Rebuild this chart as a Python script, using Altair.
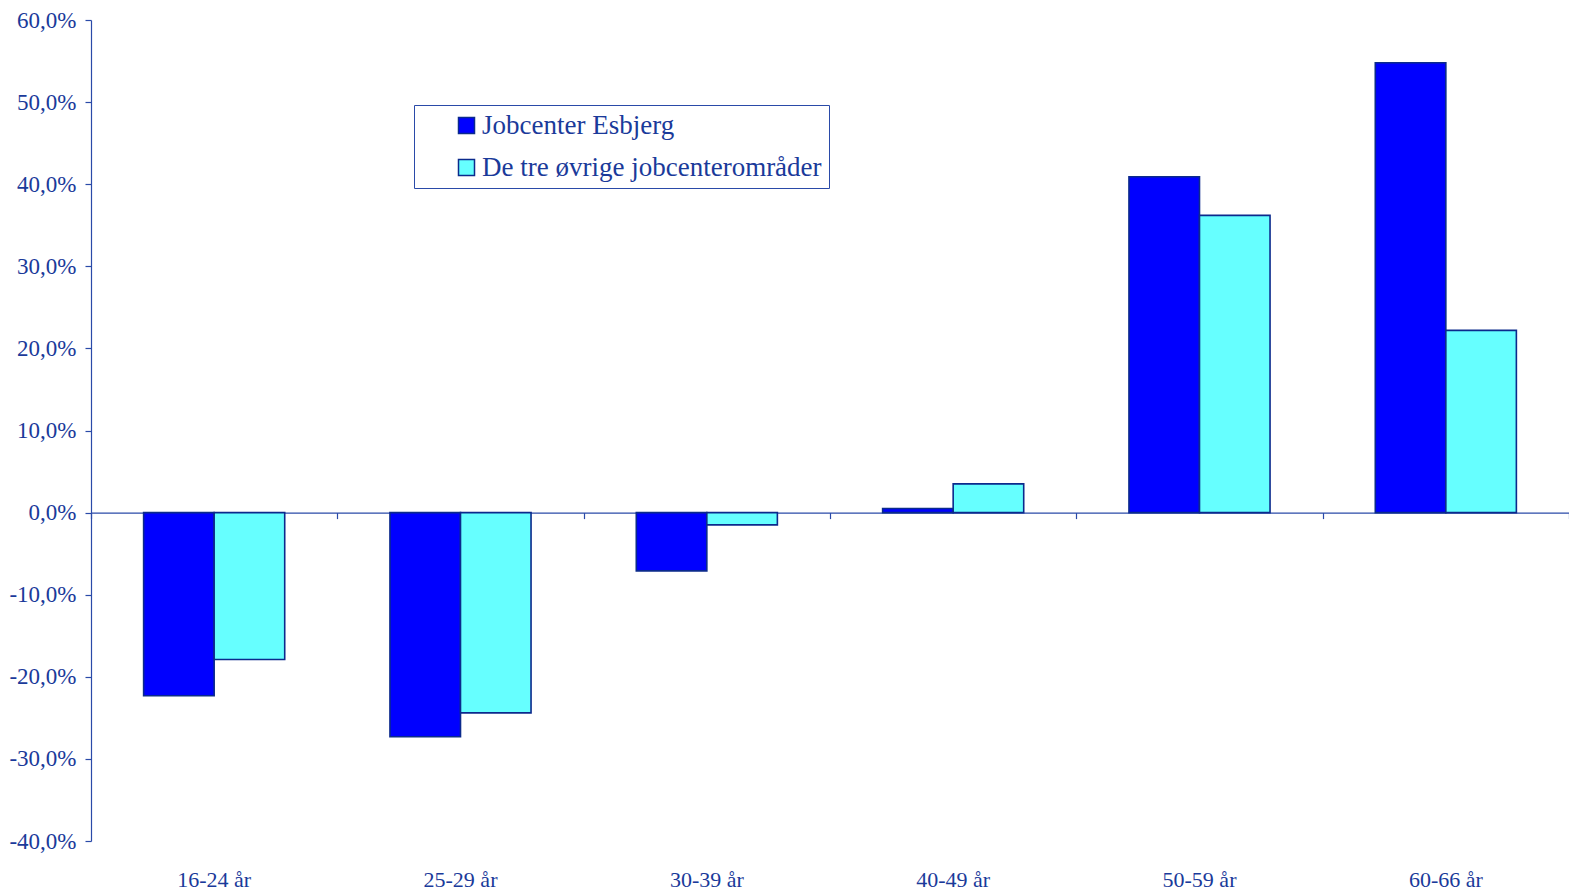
import altair as alt
import pandas as pd

categories = ["16-24 år", "25-29 år", "30-39 år", "40-49 år", "50-59 år", "60-66 år"]
series = ["Jobcenter Esbjerg", "De tre øvrige jobcenterområder"]
esbjerg = [-22.3, -27.3, -7.1, 0.5, 40.9, 54.8]
ovrige = [-17.9, -24.4, -1.5, 3.5, 36.2, 22.2]
y_ticks = [-0.4, -0.3, -0.2, -0.1, 0.0, 0.1, 0.2, 0.3, 0.4, 0.5, 0.6]

rows = []
for c, a, b in zip(categories, esbjerg, ovrige):
    rows.append({"cat": c, "series": series[0], "value": a / 100})
    rows.append({"cat": c, "series": series[1], "value": b / 100})
df = pd.DataFrame(rows)

TXT = "#1a3a9a"
LINE = "#2a4aa8"
FONT = "Liberation Serif"
W, H = 1478, 821

xscale = alt.Scale(paddingInner=0, paddingOuter=0)
yscale = alt.Scale(domain=[-0.4, 0.6], nice=False)
label_expr = "replace(replace(format(datum.value, '.1%'), '.', ','), '\u2212', '-')"

bars = alt.Chart(df).mark_bar(stroke="#0b2a8c", strokeWidth=1.6).encode(
    x=alt.X("cat:N", sort=categories, scale=xscale,
            axis=alt.Axis(orient="bottom", offset=-H * 0.4, labels=False, title=None,
                          domainColor=LINE, domainWidth=1.2, tickColor=LINE, tickSize=6,
                          tickWidth=1.2, tickBand="extent", grid=False)),
    xOffset=alt.XOffset("series:N", sort=series,
                        scale=alt.Scale(paddingInner=0, paddingOuter=0.746)),
    y=alt.Y("value:Q", scale=yscale,
            axis=alt.Axis(values=y_ticks, labelExpr=label_expr, title=None, grid=False,
                          domainColor=LINE, domainWidth=1.2, tickColor=LINE, tickSize=6,
                          tickWidth=1.2, labelFont=FONT, labelFontSize=23, labelColor=TXT,
                          labelPadding=9)),
    color=alt.Color("series:N", sort=series,
                    scale=alt.Scale(domain=series, range=["#0000FF", "#66FFFF"]),
                    legend=alt.Legend(orient="none", legendX=323, legendY=85, title=None,
                                      strokeColor=LINE, fillColor="white", padding=7,
                                      symbolType="square", symbolSize=256,
                                      symbolStrokeColor="#0b2a8c", symbolStrokeWidth=1.5,
                                      symbolOffset=32, labelFont=FONT, labelFontSize=27,
                                      labelColor=TXT, rowPadding=14, labelOffset=2,
                                      labelLimit=600)),
)

labels = alt.Chart(df).mark_bar(opacity=0).encode(
    x=alt.X("cat:N", sort=categories, scale=xscale,
            axis=alt.Axis(orient="bottom", title=None, ticks=False, domain=False,
                          labelFont=FONT, labelFontSize=22, labelColor=TXT,
                          labelPadding=28, labelAngle=0)),
    y=alt.Y("value:Q", scale=yscale),
)

chart = alt.layer(bars, labels).resolve_axis(x="independent").properties(
    width=W, height=H,
    autosize=alt.AutoSizeParams(type="none"),
    padding={"left": 83, "top": 12, "right": 0, "bottom": 50},
    background="white",
).configure_view(stroke=None)

chart.save("out.html", embed_options={"renderer": "svg", "actions": False})
